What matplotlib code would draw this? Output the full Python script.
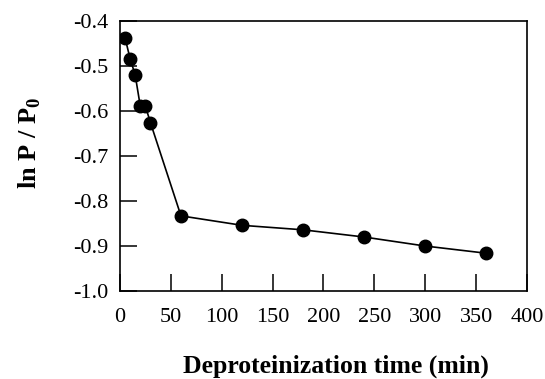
import matplotlib
matplotlib.use("Agg")
import matplotlib.pyplot as plt

# Данные
time_min = [5, 10, 15, 20, 25, 30, 60, 120, 180, 240, 300, 360]
ln_p = [-0.437, -0.484, -0.52, -0.589, -0.589, -0.626,
        -0.833, -0.854, -0.864, -0.88, -0.9, -0.916]

x_ticks = [0, 50, 100, 150, 200, 250, 300, 350, 400]
y_ticks = [-1.0, -0.9, -0.8, -0.7, -0.6, -0.5, -0.4]

plt.rcParams["font.family"] = ["Liberation Serif", "DejaVu Serif"]
plt.rcParams["mathtext.fontset"] = "custom"
plt.rcParams["mathtext.rm"] = "Liberation Serif:bold"
plt.rcParams["mathtext.bf"] = "Liberation Serif:bold"

fig = plt.figure(figsize=(5.45, 3.79), dpi=100)
ax = fig.add_axes([0.220, 0.232, 0.747, 0.713])

ax.plot(time_min, ln_p, "k-", linewidth=1.2, marker="o", markersize=9,
        markerfacecolor="black", markeredgecolor="black")

ax.set_xlim(0, 400)
ax.set_ylim(-1.0, -0.4)
ax.set_xticks(x_ticks)
ax.set_yticks(y_ticks)
ax.set_xticklabels([str(t) for t in x_ticks])
ax.set_yticklabels([f"{t:.1f}" for t in y_ticks])
ax.tick_params(direction="in", length=12, width=1.1, labelsize=16,
               top=False, right=False)
ax.tick_params(axis="x", pad=12)
ax.tick_params(axis="y", pad=8)

for sp in ax.spines.values():
    sp.set_linewidth(1.2)

ax.set_xlabel("Deproteinization time (min)", fontsize=18.5, fontweight="bold")
ax.xaxis.set_label_coords(0.53, -0.235)
ax.set_ylabel(r"ln P / P$_{0}$", fontsize=19, fontweight="bold")
ax.yaxis.set_label_coords(-0.19, 0.55)

plt.savefig("out.png", dpi=100)
